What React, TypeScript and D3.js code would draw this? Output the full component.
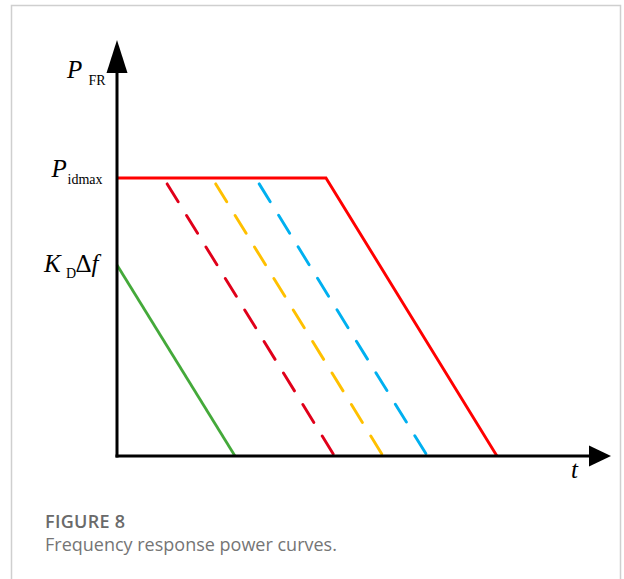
import React, { useEffect } from "react";
import * as d3 from "d3";

// Normalised units: power relative to P_idmax, time relative to ramp duration
const pAxisMax = 1.496;
const tAxisMax = 2.889;
const pIdmax = 1.0;
const kdDeltaF = 0.687;

type Pt = [number, number];

// Droop (K_D·Δf) response ramping down from t = 0
const greenCurve: Pt[] = [[0, kdDeltaF], [0.69, 0]];
// Early, mid and late ramp-down of the held P_idmax output
const redDashCurve: Pt[] = [[0.272, pIdmax], [1.272, 0]];
const yellowDashCurve: Pt[] = [[0.556, pIdmax], [1.556, 0]];
const blueDashCurve: Pt[] = [[0.81, pIdmax], [1.815, 0]];
// Maximum-hold then ramp down
const redSolidCurve: Pt[] = [[0, pIdmax], [1.222, pIdmax], [2.222, 0]];

const W = 624;
const H = 579;

export default function App() {
  useEffect(() => {
    document.body.style.margin = "0";
  }, []);

  const x = d3.scaleLinear().domain([0, tAxisMax]).range([117, 611]);
  const y = d3.scaleLinear().domain([0, pAxisMax]).range([456, 40]);
  const line = d3
    .line<Pt>()
    .x((d) => x(d[0]))
    .y((d) => y(d[1]));

  const x0 = x(0);
  const y0 = y(0);
  const yTop = y(pAxisMax);
  const xEnd = x(tAxisMax);

  const serif = "'Liberation Serif', 'Times New Roman', serif";
  const dashed = { strokeWidth: 2.9, strokeDasharray: "21 16", strokeDashoffset: 30, strokeLinecap: "round" as const };

  return (
    <svg width={W} height={H} style={{ display: "block" }}>
      <rect x={0} y={0} width={W} height={H} fill="#fff" />
      <rect x={11.5} y={5.5} width={609} height={620} fill="none" stroke="#cfcfcf" strokeWidth={1.5} />

      {/* curves */}
      <path d={line(greenCurve) || ""} fill="none" stroke="#44a93a" strokeWidth={2.8} />
      <path d={line(redDashCurve) || ""} fill="none" stroke="#e0001a" {...dashed} />
      <path d={line(yellowDashCurve) || ""} fill="none" stroke="#ffc000" {...dashed} />
      <path d={line(blueDashCurve) || ""} fill="none" stroke="#00b0f0" {...dashed} />
      <path d={line(redSolidCurve) || ""} fill="none" stroke="#ff0000" strokeWidth={2.9} strokeLinejoin="miter" />

      {/* axes */}
      <line x1={x0} y1={y0 + 1.5} x2={x0} y2={yTop + 30} stroke="#000" strokeWidth={3} />
      <polygon points={`${x0},${yTop} ${x0 - 10.5},${yTop + 33} ${x0 + 10.5},${yTop + 33}`} fill="#000" />
      <line x1={x0 - 1.5} y1={y0} x2={xEnd - 20} y2={y0} stroke="#000" strokeWidth={3} />
      <polygon points={`${xEnd},${y0} ${xEnd - 22},${y0 - 10.5} ${xEnd - 22},${y0 + 10.5}`} fill="#000" />

      {/* axis labels */}
      <text fontFamily={serif} fill="#000">
        <tspan x={67} y={78} fontSize={25} fontStyle="italic">P</tspan>
        <tspan x={88.5} y={85} fontSize={14}>FR</tspan>
      </text>
      <text fontFamily={serif} fill="#000">
        <tspan x={51.5} y={177} fontSize={25} fontStyle="italic">P</tspan>
        <tspan x={67.5} y={183.5} fontSize={14}>idmax</tspan>
      </text>
      <text fontFamily={serif} fill="#000">
        <tspan x={44} y={272} fontSize={25} fontStyle="italic">K</tspan>
        <tspan x={66} y={278} fontSize={14}>D</tspan>
        <tspan x={75.5} y={272} fontSize={25}>Δ</tspan>
        <tspan fontSize={25} fontStyle="italic">f</tspan>
      </text>
      <text x={571} y={478} fontFamily={serif} fontSize={25} fontStyle="italic" fill="#000">t</text>

      {/* caption */}
      <text x={45} y={527.5} fontFamily="'Open Sans', sans-serif" fontSize={18} fontWeight={600} fill="#6a6a6a" letterSpacing={0.3}>FIGURE 8</text>
      <text x={45} y={550.5} fontFamily="'Open Sans', sans-serif" fontSize={18} fill="#757575">Frequency response power curves.</text>
    </svg>
  );
}
